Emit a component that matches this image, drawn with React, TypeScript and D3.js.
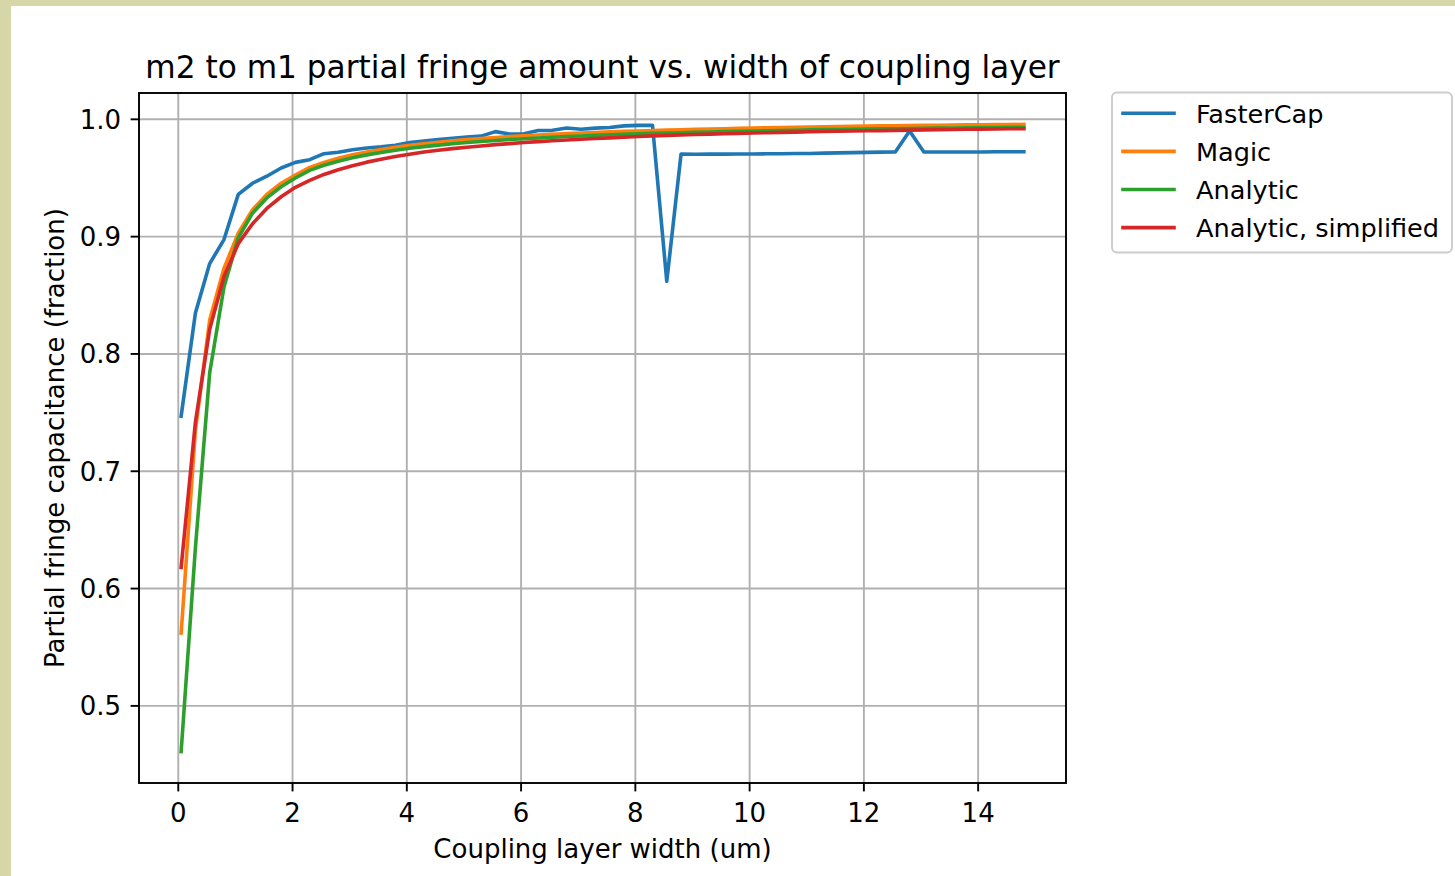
import React from "react";
import * as d3 from "d3";

// coupling layer width (um)
const widths = [
  0.05, 0.3, 0.55, 0.8, 1.05, 1.3, 1.55, 1.8, 2.05, 2.3, 2.55, 2.8, 3.05, 3.3, 3.55, 3.8, 4.05, 4.3, 4.55, 4.8,
  5.05, 5.3, 5.55, 5.8, 6.05, 6.3, 6.55, 6.8, 7.05, 7.3, 7.55, 7.8, 8.05, 8.3, 8.55, 8.8, 9.05, 9.3, 9.55, 9.8,
  10.05, 10.3, 10.55, 10.8, 11.05, 11.3, 11.55, 11.8, 12.05, 12.3, 12.55, 12.8, 13.05, 13.3, 13.55, 13.8, 14.05, 14.3, 14.55, 14.8,
];

const fasterCap = [
  0.747, 0.835, 0.877, 0.8975, 0.936, 0.9455, 0.9515, 0.9585, 0.9633, 0.9656, 0.9707, 0.972, 0.974, 0.9755, 0.9765, 0.9778, 0.9803, 0.9815, 0.9828, 0.9838,
  0.9848, 0.9857, 0.9895, 0.9874, 0.9876, 0.9905, 0.9906, 0.9926, 0.9915, 0.9925, 0.993, 0.9944, 0.9948, 0.995, 0.862, 0.9704, 0.9702, 0.9703, 0.9703, 0.9704,
  0.9705, 0.9706, 0.9707, 0.9708, 0.9709, 0.9712, 0.9714, 0.9716, 0.9718, 0.972, 0.9722, 0.99, 0.9722, 0.9722, 0.9721, 0.9721, 0.9722, 0.9723, 0.9723, 0.9723,
];

const magic = [
  0.562, 0.735, 0.829, 0.873, 0.903, 0.923, 0.936, 0.9455, 0.9525, 0.959, 0.9633, 0.9668, 0.9697, 0.9722, 0.9743, 0.9762, 0.9778, 0.9792, 0.9805, 0.9817,
  0.9827, 0.9836, 0.9845, 0.9853, 0.986, 0.9866, 0.9872, 0.9878, 0.9883, 0.9888, 0.9893, 0.9897, 0.9901, 0.9905, 0.9908, 0.9911, 0.9915, 0.9917, 0.992, 0.9923,
  0.9925, 0.9928, 0.993, 0.9932, 0.9935, 0.9937, 0.9938, 0.994, 0.9942, 0.9944, 0.9945, 0.9947, 0.9948, 0.995, 0.9951, 0.9953, 0.9954, 0.9955, 0.9956, 0.9957,
];

const analytic = [
  0.461, 0.635, 0.784, 0.857, 0.899, 0.92, 0.933, 0.9425, 0.95, 0.9565, 0.9608, 0.9643, 0.9672, 0.9697, 0.9718, 0.9737, 0.9753, 0.9767, 0.978, 0.9792,
  0.9802, 0.9811, 0.982, 0.9828, 0.9835, 0.9841, 0.9847, 0.9853, 0.9858, 0.9863, 0.9868, 0.9872, 0.9876, 0.988, 0.9883, 0.9886, 0.989, 0.9892, 0.9895, 0.9898,
  0.99, 0.9903, 0.9905, 0.9907, 0.991, 0.9912, 0.9913, 0.9915, 0.9917, 0.9919, 0.992, 0.9922, 0.9923, 0.9925, 0.9926, 0.9928, 0.9929, 0.993, 0.9931, 0.9932,
];

const simplified = [
  0.618, 0.742, 0.821, 0.866, 0.894, 0.911, 0.924, 0.934, 0.942, 0.948, 0.953, 0.957, 0.9605, 0.9635, 0.966, 0.9683, 0.9703, 0.9721, 0.9736, 0.975,
  0.9762, 0.9773, 0.9784, 0.9793, 0.9802, 0.981, 0.9817, 0.9824, 0.983, 0.9836, 0.9842, 0.9847, 0.9854, 0.9859, 0.9863, 0.9867, 0.987, 0.9874, 0.9877, 0.988,
  0.9883, 0.9886, 0.9889, 0.9891, 0.9894, 0.9896, 0.9898, 0.99, 0.9902, 0.9904, 0.9906, 0.9908, 0.991, 0.9912, 0.9913, 0.9915, 0.9916, 0.9918, 0.9919, 0.992,
];

const seriesNames = ["FasterCap", "Magic", "Analytic", "Analytic, simplified"];
const seriesColors = ["#1f77b4", "#ff7f0e", "#2ca02c", "#d62728"];
const xTicks = [0, 2, 4, 6, 8, 10, 12, 14];
const yTicks = [0.5, 0.6, 0.7, 0.8, 0.9, 1.0];

const W = 1455;
const H = 876;
const margin = { left: 139, top: 93, right: 1066, bottom: 783 };
const font = "'DejaVu Sans', sans-serif";
const fs = 26;

export default function App() {
  const allSeries = [fasterCap, magic, analytic, simplified];
  const xMin = d3.min(widths)!;
  const xMax = d3.max(widths)!;
  const yMin = d3.min(allSeries.flat())!;
  const yMax = d3.max(allSeries.flat())!;
  const xPad = (xMax - xMin) * 0.05;
  const yPad = (yMax - yMin) * 0.05;

  const x = d3.scaleLinear().domain([xMin - xPad, xMax + xPad]).range([margin.left, margin.right]);
  const y = d3.scaleLinear().domain([yMin - yPad, yMax + yPad]).range([margin.bottom, margin.top]);

  const line = d3
    .line<number>()
    .x((_, i) => x(widths[i]))
    .y((d) => y(d));

  const lw = 3.6;

  return (
    <svg width={W} height={H} style={{ position: "absolute", left: 0, top: 0 }} fontFamily={font}>
      <rect x={0} y={0} width={W} height={H} fill="#d6d7a9" />
      <rect x={11} y={6} width={W - 11} height={H - 6} fill="#ffffff" />
      <defs>
        <clipPath id="plot">
          <rect x={margin.left} y={margin.top} width={margin.right - margin.left} height={margin.bottom - margin.top} />
        </clipPath>
      </defs>

      {/* grid */}
      <g stroke="#b0b0b0" strokeWidth={1.9}>
        {xTicks.map((t) => (
          <line key={"gx" + t} x1={x(t)} x2={x(t)} y1={margin.top} y2={margin.bottom} />
        ))}
        {yTicks.map((t) => (
          <line key={"gy" + t} x1={margin.left} x2={margin.right} y1={y(t)} y2={y(t)} />
        ))}
      </g>

      {/* series */}
      <g clipPath="url(#plot)" fill="none" strokeWidth={lw} strokeLinejoin="round" strokeLinecap="square">
        {allSeries.map((s, i) => (
          <path key={seriesNames[i]} d={line(s)!} stroke={seriesColors[i]} />
        ))}
      </g>

      {/* spines */}
      <rect
        x={margin.left}
        y={margin.top}
        width={margin.right - margin.left}
        height={margin.bottom - margin.top}
        fill="none"
        stroke="#000"
        strokeWidth={1.9}
      />

      {/* x axis */}
      <g fontSize={fs} fill="#000">
        {xTicks.map((t) => (
          <g key={"xt" + t}>
            <line x1={x(t)} x2={x(t)} y1={margin.bottom} y2={margin.bottom + 8.4} stroke="#000" strokeWidth={1.9} />
            <text x={x(t)} y={margin.bottom + 38.5} textAnchor="middle">
              {t}
            </text>
          </g>
        ))}
      </g>
      {/* y axis */}
      <g fontSize={fs} fill="#000">
        {yTicks.map((t) => (
          <g key={"yt" + t}>
            <line x1={margin.left - 8.4} x2={margin.left} y1={y(t)} y2={y(t)} stroke="#000" strokeWidth={1.9} />
            <text x={margin.left - 18} y={y(t) + 9.5} textAnchor="end">
              {t.toFixed(1)}
            </text>
          </g>
        ))}
      </g>

      <text x={(margin.left + margin.right) / 2} y={858} textAnchor="middle" fontSize={fs}>
        Coupling layer width (um)
      </text>
      <text
        transform={`translate(64,${(margin.top + margin.bottom) / 2}) rotate(-90)`}
        textAnchor="middle"
        fontSize={fs}
      >
        Partial fringe capacitance (fraction)
      </text>
      <text x={(margin.left + margin.right) / 2} y={77.5} textAnchor="middle" fontSize={31.2}>
        m2 to m1 partial fringe amount vs. width of coupling layer
      </text>

      {/* legend */}
      <g>
        <rect x={1112} y={92.5} width={340} height={160} rx={5} fill="#fff" fillOpacity={0.8} stroke="#cccccc" strokeWidth={1.9} />
        {seriesNames.map((name, i) => (
          <g key={"lg" + name} transform={`translate(0,${113.3 + i * 38.1})`}>
            <line x1={1123} x2={1174} y1={0} y2={0} stroke={seriesColors[i]} strokeWidth={lw} strokeLinecap="square" />
            <text x={1196} y={9.5} fontSize={25.6}>
              {name}
            </text>
          </g>
        ))}
      </g>
    </svg>
  );
}
